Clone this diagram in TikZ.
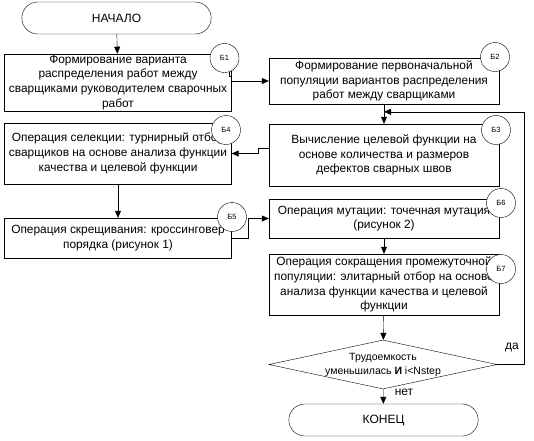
\documentclass[tikz,border=0pt]{standalone}
\usepackage{fontspec}
\setmainfont{Liberation Sans}
\usetikzlibrary{arrows.meta,shapes.geometric,shapes.misc}

\begin{document}
\begin{tikzpicture}[x=1pt,y=-1pt,
block/.style = {draw,rectangle,align=center,inner sep=1pt,
        font=\fontsize{11.9}{14.8}\selectfont},
term/.style = {draw,rounded rectangle,minimum width=196,minimum height=32,
        font=\fontsize{12}{13}\selectfont},
numcircle/.style = {draw,circle,fill=white,minimum size=29,inner sep=0pt,
        font=\fontsize{7.5}{8}\selectfont},
arr/.style = {-{Triangle[length=7pt,width=6pt]}},
every label/.append style = {font=\footnotesize}]

        \useasboundingbox (0,0) rectangle (534,440);

        % terminals
        \node[term] (start) at (116.5,18) {НАЧАЛО};
        \node[term] (stop) at (383.5,420) {КОНЕЦ};

        % blocks, left column
        \node[block,minimum width=227,minimum height=57] (b1) at (118,82.5)
            {Формирование варианта\\распределения работ между\\сварщиками руководителем сварочных\\работ};
        \node[block,minimum width=227,minimum height=61] (b4) at (118,153.5)
            {Операция селекции: турнирный отбор\\сварщиков на основе анализа функции\\качества и целевой функции};
        \node[block,minimum width=227,minimum height=40] (b5) at (118,238)
            {Операция скрещивания: кроссинговер\\порядка (рисунок 1)};

        % blocks, right column
        \node[block,minimum width=230,minimum height=46] (b2) at (384,81)
            {Формирование первоначальной\\популяции вариантов распределения\\работ между сварщиками};
        \node[block,minimum width=230,minimum height=62] (b3) at (384,155)
            {Вычисление целевой функции на\\основе количества и размеров\\дефектов сварных швов};
        \node[block,minimum width=230,minimum height=39] (b6) at (384,218.5)
            {Операция мутации: точечная мутация\\(рисунок 2)};
        \node[block,minimum width=230,minimum height=61] (b7) at (384,284.5)
            {Операция сокращения промежуточной\\популяции: элитарный отбор на основе\\анализа функции качества и целевой\\функции};
        \node[draw,diamond,aspect=4.6,minimum width=228,minimum height=49,inner sep=0pt,
            align=center,font=\fontsize{10.5}{14}\selectfont] (cond) at (383,364.5)
            {Трудоемкость\\уменьшилась \textbf{И} i<Nstep};

        % connectors
        \draw[arr] (start) -- (b1);
        \draw (229,72) -- (229,76) -- (b1.east |- 0,76);
        \draw[arr] (b1.east |- b2.west) -- (b2.west);
        \draw[arr] (b2) -- (b3);
        \draw[arr] ([yshift=7pt]b3.west) -- ++(-11,0) |- (b4.east);
        \draw[arr] (b4) -- (b5);
        \draw[arr] (b5.east) -- ++(16,0) |- (b6.west);
        \draw[arr] (b6) -- (b7);
        \draw[arr] (b7) -- (cond);
        \draw[arr] (cond.east) -- ++(27,0) |- ([yshift=12pt]b3.north);
        \draw[arr] (cond) -- (stop);
        \node[font=\fontsize{12}{13}\selectfont] (yes) at (512,347) {да};
        \node[font=\fontsize{12}{13}\selectfont] (no) at (404,392) {нет};

        % block numbers
        \node[numcircle] (b1c) at (224.5,58) {Б1};
        \node[numcircle] (b2c) at (495,57) {Б2};
        \node[numcircle] (b3c) at (496,130) {Б3};
        \node[numcircle] (b4c) at (226,130) {Б4};
        \node[numcircle] (b5c) at (232,217) {Б5};
        \node[numcircle] (b6c) at (501,203) {Б6};
        \node[numcircle] (b7c) at (501,269) {Б7};

    \end{tikzpicture}
\end{document}
